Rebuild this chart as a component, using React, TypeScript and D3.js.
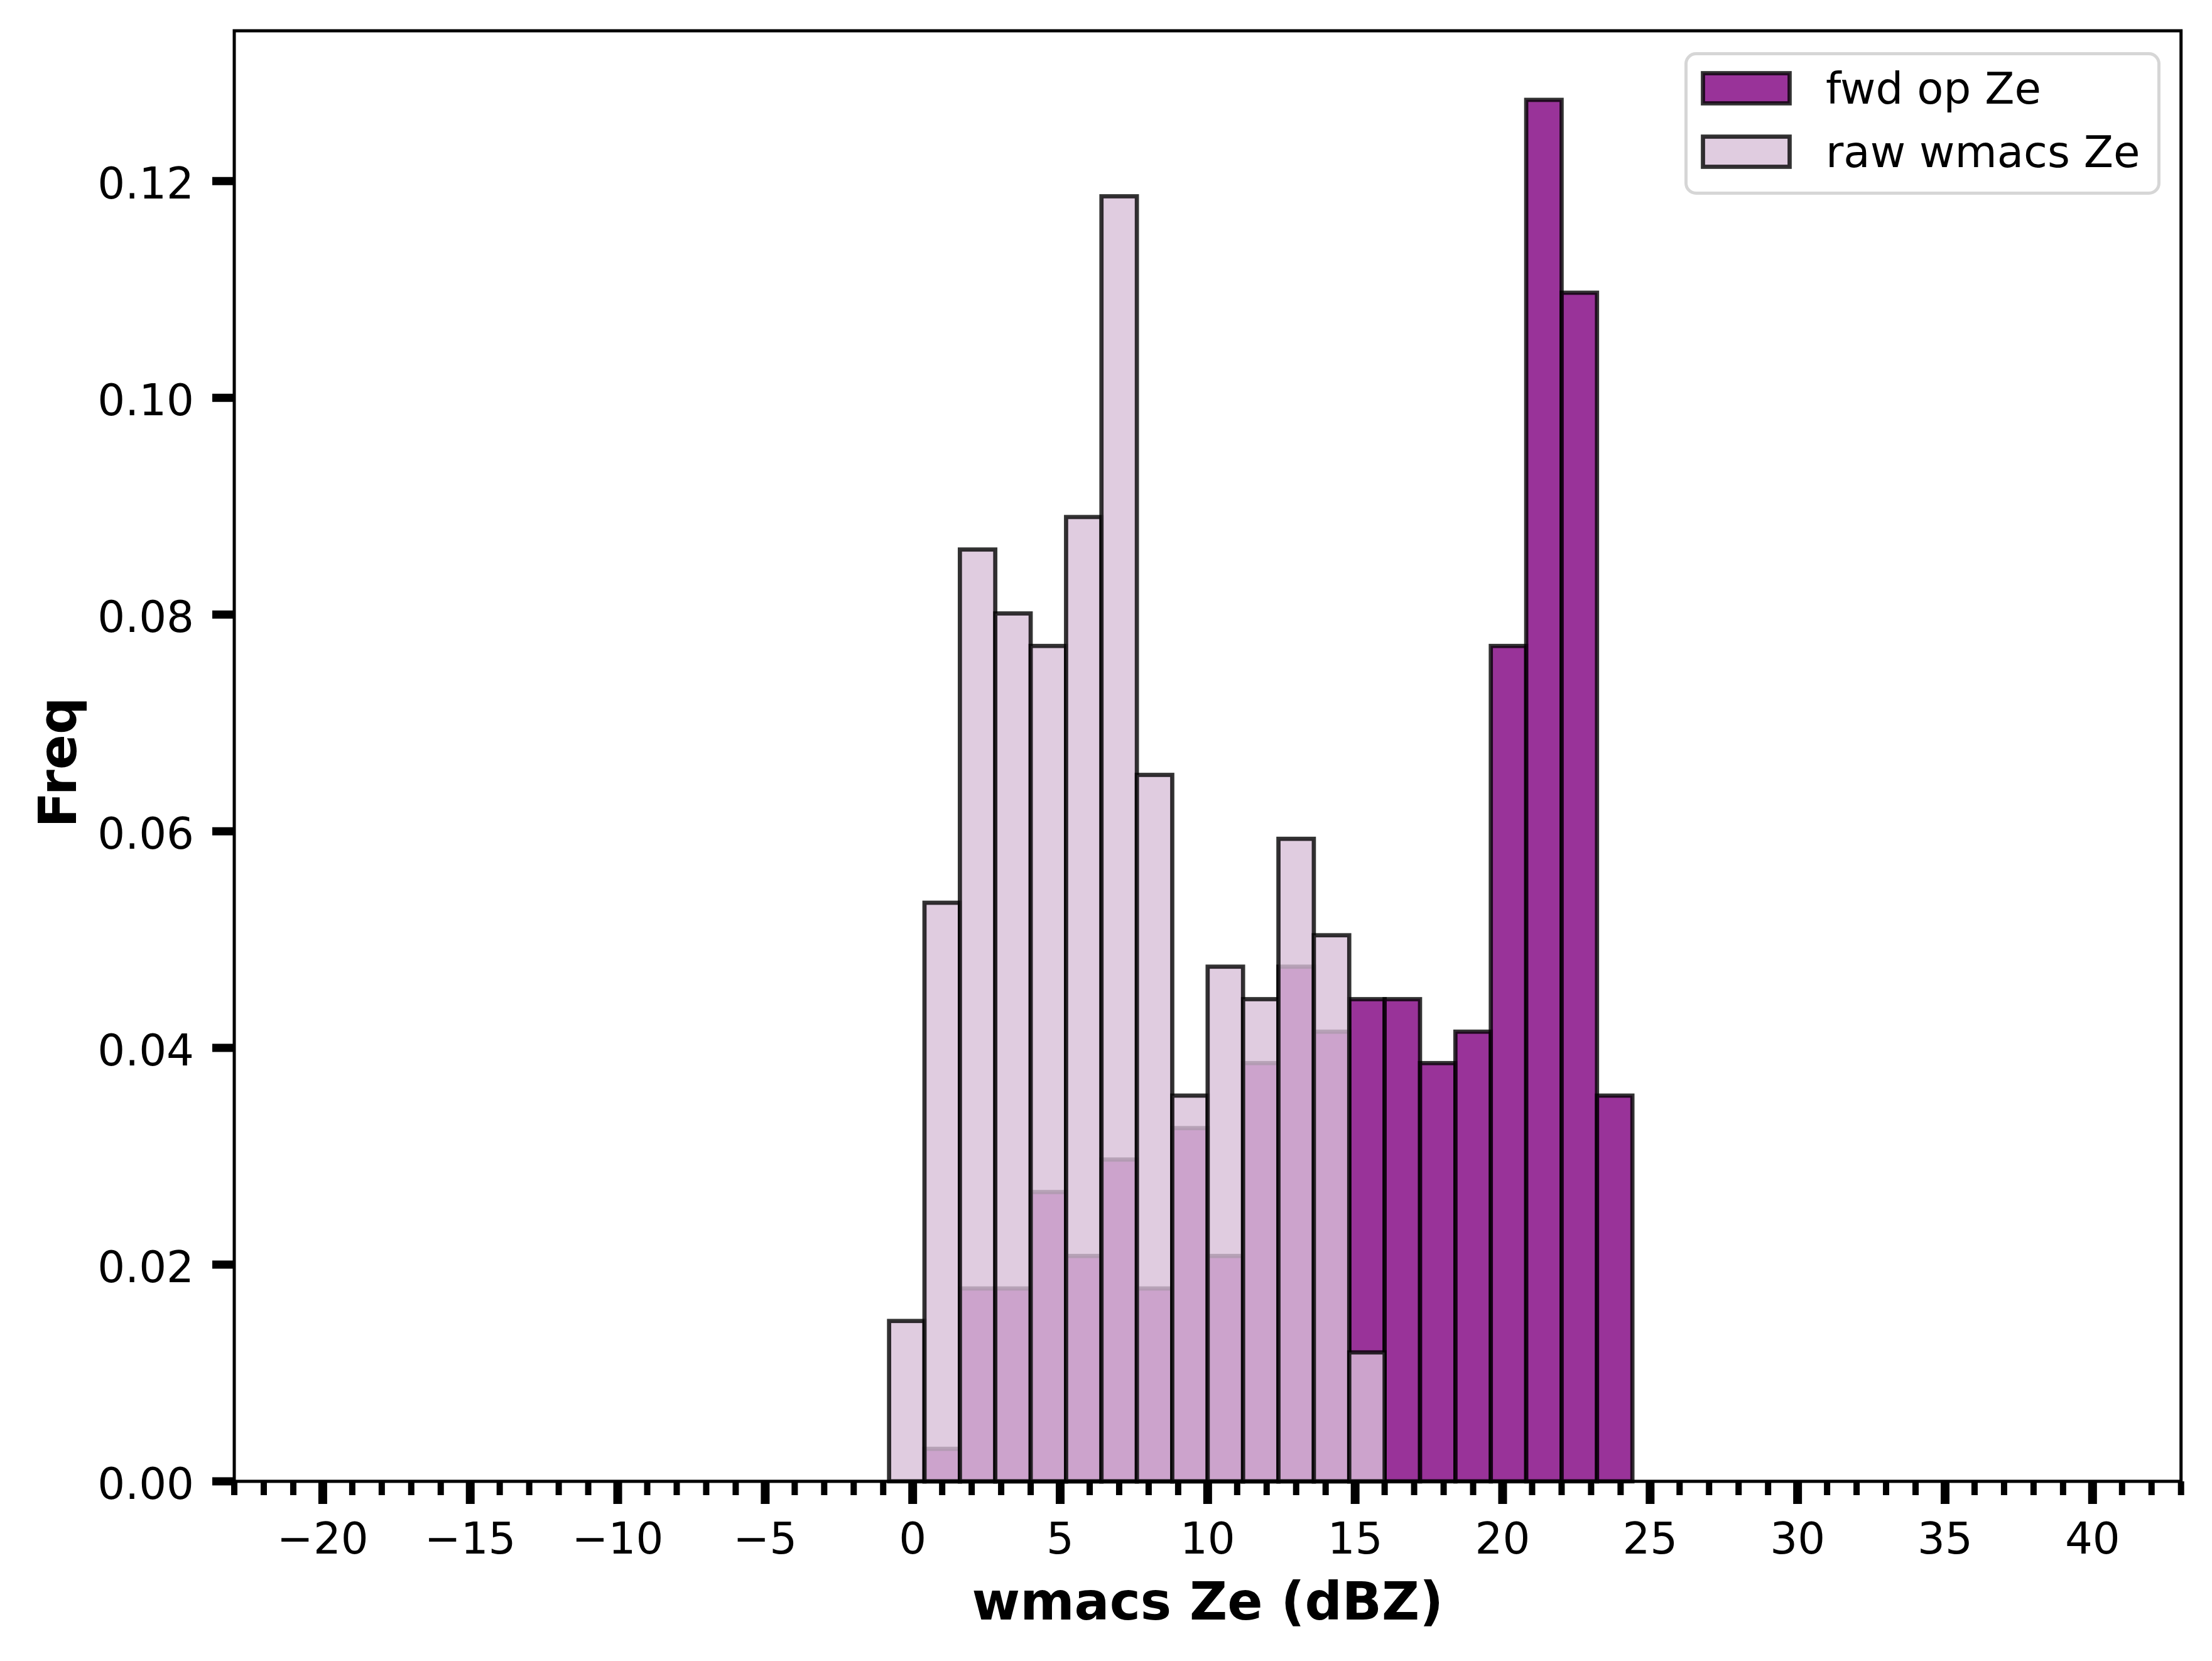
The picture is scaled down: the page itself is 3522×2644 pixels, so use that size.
import * as d3 from 'd3'

// histogram bin edges (dBZ), shared by both series
const binEdges = [
  -0.8, 0.4, 1.6, 2.8, 4.0, 5.2, 6.4, 7.6, 8.8, 10.0, 11.2, 12.4, 13.6, 14.8, 16.0, 17.2, 18.4, 19.6,
  20.8, 22.0, 23.2, 24.4,
]

// density per bin
const fwdOpZe = [
  0, 0.003, 0.0178, 0.0178, 0.0267, 0.0208, 0.0297, 0.0178, 0.0326, 0.0208, 0.0386, 0.0475, 0.0415,
  0.0445, 0.0445, 0.0386, 0.0415, 0.0771, 0.1275, 0.1097, 0.0356,
]
const rawWmacsZe = [
  0.0148, 0.0534, 0.086, 0.0801, 0.0771, 0.089, 0.1186, 0.0652, 0.0356, 0.0475, 0.0445, 0.0593,
  0.0504, 0.0119, 0, 0, 0, 0, 0, 0, 0,
]

const xDomain = [-23, 43]
const xMajorTicks = [-20, -15, -10, -5, 0, 5, 10, 15, 20, 25, 30, 35, 40]
const yTicks = [0, 0.02, 0.04, 0.06, 0.08, 0.1, 0.12]

const series = [
  { name: 'fwd op Ze', values: fwdOpZe, fill: 'purple' },
  { name: 'raw wmacs Ze', values: rawWmacsZe, fill: 'thistle' },
]

const W = 3522
const H = 2644
const left = 373
const right = 3472.7
const top = 49
const bottom = 2358
const FONT = 'DejaVu Sans, sans-serif'
const EDGE = 6.7

export default function App() {
  const x = d3.scaleLinear().domain(xDomain).range([left, right])
  const yMax = (d3.max([...fwdOpZe, ...rawWmacsZe]) ?? 0) * 1.05
  const y = d3.scaleLinear().domain([0, yMax]).range([bottom, top])
  const minorTicks = x.ticks(66).filter((t) => !xMajorTicks.includes(t))
  const fmtX = d3.format('d')
  const fmtY = d3.format('.2f')

  return (
    <svg
      width={W}
      height={H}
      viewBox={`0 0 ${W} ${H}`}
      style={{ position: 'absolute', left: 0, top: 0, display: 'block', background: '#fff' }}
      fontFamily={FONT}
    >
      <rect width={W} height={H} fill="#fff" />

      {/* bars: fwd first, raw drawn over it */}
      {series.map((s) => (
        <g key={s.name}>
          {s.values.map((v, i) =>
            v > 0 ? (
              <rect
                key={i}
                x={x(binEdges[i])}
                y={y(v)}
                width={x(binEdges[i + 1]) - x(binEdges[i])}
                height={y(0) - y(v)}
                fill={s.fill}
                fillOpacity={0.8}
                stroke="#000"
                strokeOpacity={0.8}
                strokeWidth={EDGE}
              />
            ) : null
          )}
        </g>
      ))}

      {/* spines */}
      <rect
        x={left}
        y={top}
        width={right - left}
        height={bottom - top}
        fill="none"
        stroke="#000"
        strokeWidth={5}
      />

      {/* x ticks */}
      {minorTicks.map((t) => (
        <line key={`m${t}`} x1={x(t)} x2={x(t)} y1={bottom} y2={bottom + 22} stroke="#000" strokeWidth={10} />
      ))}
      {xMajorTicks.map((t) => (
        <g key={`x${t}`}>
          <line x1={x(t)} x2={x(t)} y1={bottom} y2={bottom + 36} stroke="#000" strokeWidth={14} />
          <text x={x(t)} y={2473} textAnchor="middle" fontSize={69} fill="#000">
            {fmtX(t).replace('-', '\u2212')}
          </text>
        </g>
      ))}

      {/* y ticks */}
      {yTicks.map((t) => (
        <g key={`y${t}`}>
          <line x1={left - 35} x2={left} y1={y(t)} y2={y(t)} stroke="#000" strokeWidth={13} />
          <text x={309} y={y(t) + 28} textAnchor="end" fontSize={69} fill="#000">
            {fmtY(t)}
          </text>
        </g>
      ))}

      {/* axis labels */}
      <text x={(left + right) / 2} y={2578} textAnchor="middle" fontSize={83} fontWeight="bold" fill="#000">
        wmacs Ze (dBZ)
      </text>
      <text
        transform={`translate(121, ${(top + bottom) / 2 + 10}) rotate(-90)`}
        textAnchor="middle"
        fontSize={83}
        fontWeight="bold"
        fill="#000"
      >
        Freq
      </text>

      {/* legend */}
      <g>
        <rect x={2684.5} y={85.5} width={753} height={222} rx={16} fill="#fff" fillOpacity={0.8} stroke="#d6d6d6" strokeWidth={5} />
        {series.map((s, i) => (
          <g key={s.name} transform={`translate(0, ${i * 101})`}>
            <rect
              x={2711.5}
              y={116.5}
              width={138}
              height={48}
              fill={s.fill}
              fillOpacity={0.8}
              stroke="#000"
              strokeOpacity={0.8}
              strokeWidth={EDGE}
            />
            <text x={2907} y={165} fontSize={69} fill="#000">
              {s.name}
            </text>
          </g>
        ))}
      </g>
    </svg>
  )
}
